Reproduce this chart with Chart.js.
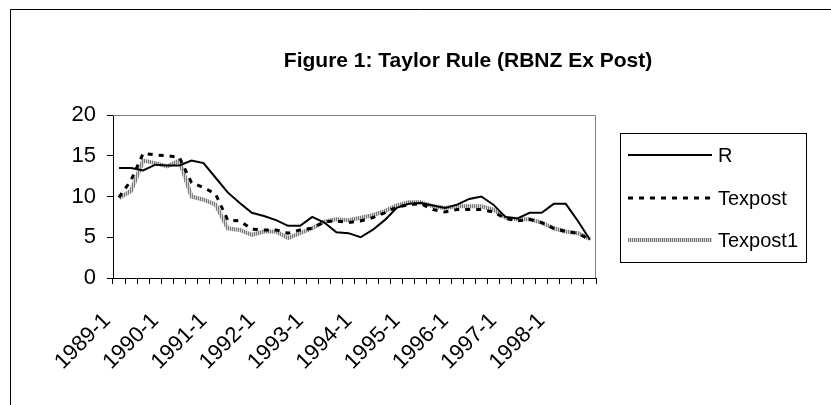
<!DOCTYPE html>
<html>
<head>
<meta charset="utf-8">
<script src="https://cdn.jsdelivr.net/npm/chart.js@4.4.0/dist/chart.umd.min.js"></script>
<style>
html, body { margin: 0; padding: 0; background: #fff; }
canvas { display: block; }
</style>
</head>
<body>
<canvas id="taylorChart" width="831" height="405"></canvas>
<script>
const quarters = [
    "1989-1","1989-2","1989-3","1989-4","1990-1","1990-2","1990-3","1990-4",
    "1991-1","1991-2","1991-3","1991-4","1992-1","1992-2","1992-3","1992-4",
    "1993-1","1993-2","1993-3","1993-4","1994-1","1994-2","1994-3","1994-4",
    "1995-1","1995-2","1995-3","1995-4","1996-1","1996-2","1996-3","1996-4",
    "1997-1","1997-2","1997-3","1997-4","1998-1","1998-2","1998-3","1998-4"
];
const shownLabels = ["1989-1","1990-1","1991-1","1992-1","1993-1","1994-1","1995-1","1996-1","1997-1","1998-1"];

const seriesR = [
    13.5, 13.5, 13.2, 13.9, 13.8, 13.8, 14.4, 14.1,
    12.3, 10.5, 9.2, 8.0, 7.6, 7.1, 6.4, 6.4,
    7.5, 6.8, 5.6, 5.5, 5.0, 5.9, 7.1, 8.6,
    9.1, 9.2, 8.9, 8.6, 9.0, 9.7, 10.0, 9.0,
    7.5, 7.3, 8.0, 8.0, 9.1, 9.1, 7.0, 4.7
];
const seriesTexpost = [
    9.9, 12.0, 15.3, 15.1, 15.0, 14.8, 11.7, 11.1,
    10.3, 7.1, 7.0, 6.0, 5.9, 5.9, 5.5, 5.9,
    6.1, 6.9, 7.0, 6.8, 7.0, 7.4, 8.0, 8.7,
    9.0, 9.1, 8.4, 8.1, 8.4, 8.4, 8.4, 8.1,
    7.3, 7.0, 7.2, 6.8, 6.1, 5.7, 5.5, 4.7
];
const seriesTexpost1 = [
    9.8, 10.7, 14.4, 14.1, 13.7, 14.4, 10.0, 9.6,
    9.0, 6.1, 5.9, 5.3, 5.7, 5.7, 4.9, 5.5,
    6.1, 6.9, 7.2, 7.1, 7.4, 7.7, 8.2, 8.9,
    9.3, 9.3, 8.8, 8.6, 8.8, 8.8, 8.8, 8.4,
    7.4, 7.2, 7.2, 6.8, 6.1, 5.7, 5.5, 4.8
];
const yTicks = [0, 5, 10, 15, 20];

const FONT = "'Liberation Sans', Arial, sans-serif";
const ctx = document.getElementById("taylorChart").getContext("2d");

// striped grey like the hatched line of the original
const stripe = document.createElement("canvas");
stripe.width = 2;
stripe.height = 2;
const sctx = stripe.getContext("2d");
sctx.fillStyle = "#7a7a7a";
sctx.fillRect(0, 0, 1, 2);
sctx.fillStyle = "#d4d4d4";
sctx.fillRect(1, 0, 1, 2);
const greyPattern = ctx.createPattern(stripe, "repeat");

// outer frame, title, plot border and boxed legend
const decor = {
    id: "decor",
    beforeDatasetsDraw(chart) {
        const c = chart.ctx, a = chart.chartArea;
        c.save();
        c.strokeStyle = "#808080";
        c.lineWidth = 1;
        c.beginPath();
        c.moveTo(a.left, a.top + 0.5);
        c.lineTo(a.right - 0.5, a.top + 0.5);
        c.lineTo(a.right - 0.5, a.bottom);
        c.stroke();
        c.restore();
    },
    afterDraw(chart) {
        const c = chart.ctx;
        c.save();
        c.strokeStyle = "#000";
        c.lineWidth = 1;
        c.beginPath();
        c.moveTo(10.5, 405);
        c.lineTo(10.5, 9.5);
        c.lineTo(831, 9.5);
        c.stroke();

        c.fillStyle = "#000";
        c.font = "bold 21px " + FONT;
        c.textAlign = "center";
        c.textBaseline = "middle";
        c.fillText("Figure 1: Taylor Rule (RBNZ Ex Post)", 468, 61);

        c.strokeRect(620.5, 133.5, 186, 129);
        c.font = "20px " + FONT;
        c.textAlign = "left";
        const rowY = [155, 198, 240];
        chart.data.datasets.forEach((ds, i) => {
            c.save();
            c.strokeStyle = ds.borderColor;
            c.lineWidth = ds.borderWidth;
            c.setLineDash(ds.borderDash || []);
            c.beginPath();
            c.moveTo(628, rowY[i]);
            c.lineTo(712, rowY[i]);
            c.stroke();
            c.restore();
            c.fillText(ds.label, 718, rowY[i] + 1);
        });
        c.restore();
    }
};

new Chart(ctx, {
    type: "line",
    data: {
        labels: quarters,
        datasets: [
            { label: "R", data: seriesR, borderColor: "#000", borderWidth: 2 },
            { label: "Texpost", data: seriesTexpost, borderColor: "#000", borderWidth: 3, borderDash: [5, 6] },
            { label: "Texpost1", data: seriesTexpost1, borderColor: greyPattern, borderWidth: 4 }
        ]
    },
    options: {
        responsive: false,
        animation: false,
        elements: {
            point: { radius: 0 },
            line: { tension: 0, borderCapStyle: "butt", borderJoinStyle: "miter" }
        },
        layout: { padding: { left: 0, top: 115, right: 235, bottom: 0 } },
        plugins: {
            legend: { display: false },
            title: { display: false },
            tooltip: { enabled: false }
        },
        scales: {
            x: {
                offset: true,
                grid: { offset: true, drawOnChartArea: false, drawTicks: true, tickLength: 6, color: "#000" },
                border: { color: "#000" },
                ticks: {
                    autoSkip: false,
                    maxRotation: 45,
                    minRotation: 45,
                    padding: 24,
                    labelOffset: -12,
                    color: "#000",
                    font: { family: FONT, size: 22 },
                    callback(v, i) {
                        return shownLabels.includes(quarters[i]) ? quarters[i] : "";
                    }
                },
                afterFit(s) { s.height = 127; }
            },
            y: {
                min: 0,
                max: 20,
                afterBuildTicks(s) { s.ticks = yTicks.map(v => ({ value: v })); },
                ticks: { padding: 11, color: "#000", font: { family: FONT, size: 22 } },
                grid: { drawOnChartArea: false, tickLength: 6, color: "#000" },
                border: { color: "#000" },
                afterFit(s) { s.width = 113; }
            }
        }
    },
    plugins: [decor]
});
</script>
</body>
</html>
